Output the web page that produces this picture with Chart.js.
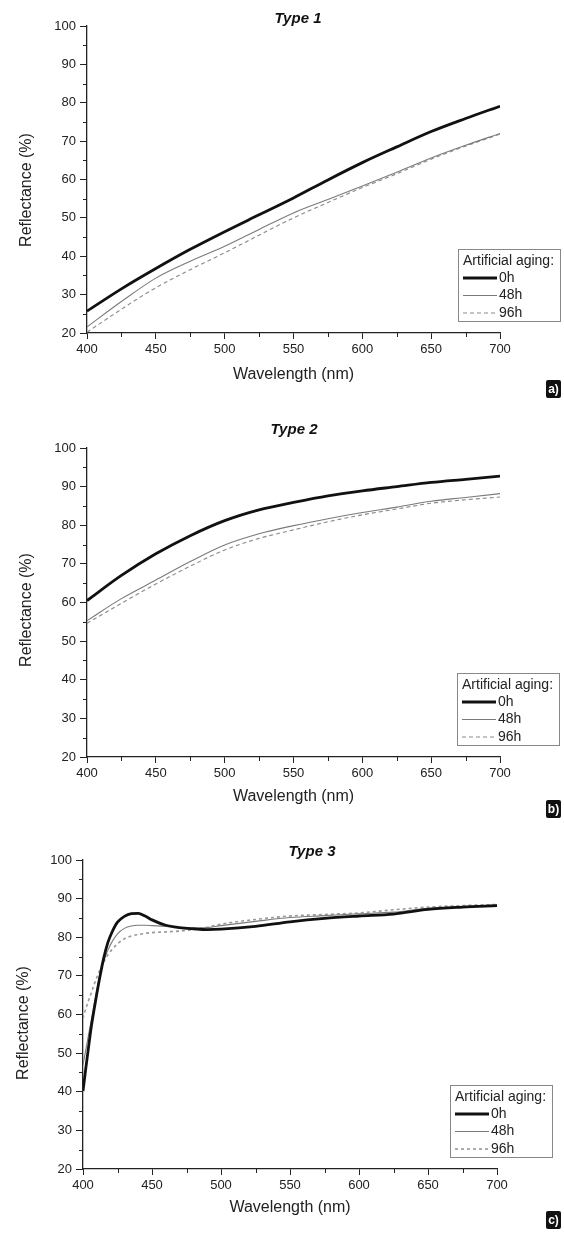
<!DOCTYPE html>
<html>
<head>
<meta charset="utf-8">
<script src="https://cdn.jsdelivr.net/npm/chart.js"></script>
<style>
html, body { margin: 0; padding: 0; background: #fff; }
canvas { display: block; }
</style>
</head>
<body>
<canvas id="c1" width="564" height="411"></canvas>
<canvas id="c2" width="564" height="411"></canvas>
<canvas id="c3" width="564" height="411"></canvas>
<script>
var FONT = "'Liberation Sans', Arial, sans-serif";

var seriesLabels = ["0h", "48h", "96h"];

// Type 1
var wl1 = [400, 425, 450, 475, 500, 525, 550, 575, 600, 625, 650, 675, 700];
var t1_0h = [25.7, 31.5, 36.8, 41.8, 46.4, 50.8, 55.2, 59.9, 64.4, 68.5, 72.5, 75.9, 79.1];
var t1_48h = [21.6, 28.2, 34.3, 38.7, 42.6, 47.0, 51.3, 54.8, 58.3, 61.9, 65.6, 68.9, 72.0];
var t1_96h = [20.2, 26.2, 31.8, 36.5, 40.9, 45.5, 50.0, 54.0, 57.9, 61.5, 65.3, 68.7, 71.8];

// Type 2
var wl2 = [400, 425, 450, 475, 500, 525, 550, 575, 600, 625, 650, 675, 700];
var t2_0h = [60.5, 67.0, 72.6, 77.3, 81.2, 84.0, 85.9, 87.6, 88.9, 90.0, 91.1, 91.9, 92.7];
var t2_48h = [55.3, 61.0, 65.8, 70.6, 74.9, 77.8, 79.9, 81.7, 83.3, 84.7, 86.2, 87.2, 88.2];
var t2_96h = [54.6, 59.8, 64.8, 69.4, 73.6, 76.6, 78.8, 80.9, 82.7, 84.2, 85.7, 86.6, 87.3];

// Type 3
var wl3 = [400, 402, 404, 406, 408, 410, 412, 415, 418, 421, 425, 430, 435, 440, 445, 450, 460, 470, 480, 490, 500, 525, 550, 575, 600, 625, 650, 675, 700];
var t3_0h = [40.2, 46.0, 51.5, 56.8, 61.2, 65.4, 69.3, 74.6, 78.6, 81.3, 83.9, 85.4, 86.1, 86.2, 85.5, 84.5, 83.1, 82.5, 82.2, 82.0, 82.1, 82.8, 84.0, 84.9, 85.5, 86.0, 87.2, 87.8, 88.2];
var t3_48h = [47.0, 50.8, 54.7, 58.5, 62.5, 66.3, 70.0, 73.8, 76.6, 78.8, 80.9, 82.3, 82.9, 83.1, 83.1, 83.0, 82.8, 82.5, 82.3, 82.5, 83.0, 84.1, 85.1, 85.6, 86.1, 86.5, 87.5, 87.9, 88.4];
var t3_96h = [59.0, 61.5, 63.6, 65.6, 67.7, 69.6, 71.3, 73.5, 75.4, 76.8, 78.3, 79.6, 80.3, 80.7, 81.0, 81.2, 81.4, 81.6, 82.0, 82.6, 83.4, 84.6, 85.5, 85.9, 86.3, 87.1, 87.8, 88.2, 88.5];

function pts(xs, ys) {
    return xs.map(function (x, i) { return { x: x, y: ys[i] }; });
}

// little things Chart.js has no option for: minor ticks, titles, boxed legend, panel tag
var extras = {
    id: "extras",
    afterDraw: function (chart, args, o) {
        var ctx = chart.ctx;
        var a = chart.chartArea;
        var xs = chart.scales.x, ys = chart.scales.y;
        ctx.save();

        ctx.strokeStyle = "#222";
        ctx.lineWidth = 1;
        ctx.beginPath();
        for (var v = 25; v < 100; v += 10) {
            var py = Math.round(ys.getPixelForValue(v)) + 0.5;
            ctx.moveTo(a.left - 4, py);
            ctx.lineTo(a.left, py);
        }
        for (var w = 425; w < 700; w += 50) {
            var px = Math.round(xs.getPixelForValue(w)) + 0.5;
            ctx.moveTo(px, a.bottom);
            ctx.lineTo(px, a.bottom + 4);
        }
        ctx.stroke();

        // chart title
        ctx.fillStyle = "#111";
        ctx.textAlign = "center";
        ctx.textBaseline = "middle";
        ctx.font = "italic bold 15px " + FONT;
        ctx.fillText(o.title.text, o.title.x, o.title.y);

        // y title
        ctx.save();
        ctx.translate(o.yTitle.x, o.yTitle.y);
        ctx.rotate(-Math.PI / 2);
        ctx.font = "16px " + FONT;
        ctx.fillStyle = "#222";
        ctx.fillText("Reflectance (%)", 0, 0);
        ctx.restore();

        // legend
        var L = o.legend;
        ctx.fillStyle = "#fff";
        ctx.fillRect(L.x, L.y, 102, 72);
        ctx.strokeStyle = "#888";
        ctx.lineWidth = 1;
        ctx.strokeRect(L.x + 0.5, L.y + 0.5, 102, 72);
        ctx.textAlign = "left";
        ctx.fillStyle = "#222";
        ctx.font = "14px " + FONT;
        ctx.fillText("Artificial aging:", L.x + 5, L.y + 12);
        chart.data.datasets.forEach(function (ds, i) {
            var ry = L.y + 29 + 17.5 * i;
            ctx.save();
            ctx.strokeStyle = ds.borderColor;
            ctx.lineWidth = ds.borderWidth;
            ctx.setLineDash(ds.borderDash || []);
            ctx.beginPath();
            ctx.moveTo(L.x + 5, ry);
            ctx.lineTo(L.x + 39, ry);
            ctx.stroke();
            ctx.restore();
            ctx.fillText(ds.label, L.x + 41, ry);
        });

        // panel tag
        var T = o.tag;
        ctx.fillStyle = "#111";
        ctx.beginPath();
        ctx.roundRect(T.x, T.y, 15, 18, 2);
        ctx.fill();
        ctx.fillStyle = "#fff";
        ctx.textAlign = "center";
        ctx.font = "bold 12px " + FONT;
        ctx.fillText(T.text, T.x + 7.5, T.y + 9.5);

        ctx.restore();
    }
};

function makeChart(id, xs, s0, s48, s96, g, thirdStyle) {
    var ds96 = thirdStyle || { borderColor: "#8a8a8a", borderWidth: 1.1, borderDash: [4, 3] };
    new Chart(id, {
        type: "line",
        data: {
            datasets: [{
                label: seriesLabels[0],
                data: pts(xs, s0),
                borderColor: "#111",
                borderWidth: 2.8
            }, {
                label: seriesLabels[1],
                data: pts(xs, s48),
                borderColor: "#7a7a7a",
                borderWidth: 1.1
            }, {
                label: seriesLabels[2],
                data: pts(xs, s96),
                borderColor: ds96.borderColor,
                borderWidth: ds96.borderWidth,
                borderDash: ds96.borderDash
            }]
        },
        options: {
            responsive: false,
            animation: false,
            parsing: false,
            elements: {
                point: { radius: 0 },
                line: { cubicInterpolationMode: "monotone", fill: false }
            },
            layout: {
                padding: { left: 0, top: g.area.top, right: 564 - g.area.right, bottom: 0 }
            },
            plugins: {
                legend: { display: false },
                tooltip: { enabled: false },
                extras: g
            },
            scales: {
                x: {
                    type: "linear",
                    min: 400,
                    max: 700,
                    afterFit: function (s) { s.height = 411 - g.area.bottom; },
                    ticks: { stepSize: 50, color: "#222", padding: 3, font: { family: FONT, size: 13 } },
                    grid: { drawOnChartArea: false, tickLength: 6, color: "#222" },
                    border: { color: "#222", width: 1.3 },
                    title: {
                        display: true,
                        text: "Wavelength (nm)",
                        color: "#222",
                        font: { family: FONT, size: 16 },
                        padding: { top: 0, bottom: g.xTitlePad + 1.5 }
                    }
                },
                y: {
                    min: 20,
                    max: 100,
                    afterFit: function (s) { s.width = g.area.left; },
                    ticks: { stepSize: 10, color: "#222", padding: 4, font: { family: FONT, size: 13 } },
                    grid: { drawOnChartArea: false, tickLength: 7, color: "#222" },
                    border: { color: "#222", width: 1.3 }
                }
            }
        },
        plugins: [extras]
    });
}

makeChart("c1", wl1, t1_0h, t1_48h, t1_96h, {
    area: { left: 87, right: 500, top: 26, bottom: 333 },
    xTitlePad: 25,
    title: { text: "Type 1", x: 298, y: 19 },
    yTitle: { x: 27, y: 190 },
    legend: { x: 458, y: 249 },
    tag: { text: "a)", x: 546, y: 380 }
});

makeChart("c2", wl2, t2_0h, t2_48h, t2_96h, {
    area: { left: 87, right: 500, top: 37, bottom: 346 },
    xTitlePad: 14.5,
    title: { text: "Type 2", x: 294, y: 19 },
    yTitle: { x: 27, y: 199 },
    legend: { x: 457, y: 262 },
    tag: { text: "b)", x: 546, y: 389 }
});

makeChart("c3", wl3, t3_0h, t3_48h, t3_96h, {
    area: { left: 83, right: 497, top: 38, bottom: 347 },
    xTitlePad: 14,
    title: { text: "Type 3", x: 312, y: 30 },
    yTitle: { x: 24, y: 201 },
    legend: { x: 450, y: 263 },
    tag: { text: "c)", x: 546, y: 389 }
}, { borderColor: "#999", borderWidth: 1.6, borderDash: [3, 3] });
</script>
</body>
</html>
